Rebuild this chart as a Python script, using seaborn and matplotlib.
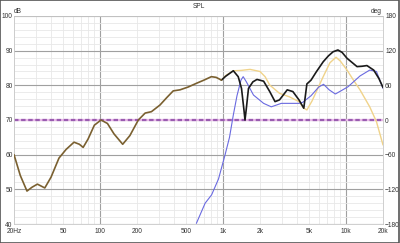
import numpy as np
import pandas as pd
import matplotlib
matplotlib.use("Agg")
import matplotlib.pyplot as plt
import seaborn as sns
from matplotlib.ticker import FixedLocator, NullFormatter

# shared low-frequency part (black and gold overlap -> brown)
low_freq = [20, 22.5, 25.5, 28, 31, 35.6, 40, 46.4, 53, 61.5, 68, 73, 80, 90, 102, 115, 130,
            153, 175, 205, 233, 262, 307, 350, 394, 447, 520, 610, 700, 805, 880, 972]
low_db = [60, 54, 49.5, 50.6, 51.5, 50.4, 53.5, 59, 61.5, 63.6, 63, 62.1, 64.5, 68.5, 70, 69, 66,
          63, 65.5, 70, 72, 72.4, 74.3, 76.5, 78.4, 78.7, 79.5, 80.6, 81.5, 82.5, 82.3, 81.5]

black_freq = [972, 1050, 1214, 1330, 1415, 1480, 1510, 1545, 1612, 1750, 1890, 2140, 2400, 2650,
              2880, 3330, 3700, 4150, 4540, 4810, 5200, 5740, 6530, 7200, 7870, 8600, 9300,
              10200, 12300, 13500, 14800, 16800, 18500, 20000]
black_db = [81.5, 82.6, 84.2, 82.5, 79.1, 73, 70, 73, 79.1, 81, 81.7, 81.2, 78.2, 75.3,
            75.8, 78.7, 78.2, 75.8, 73.4, 80.4, 81.5, 83.9, 86.8, 88.5, 89.7, 90.2, 89.5,
            87.8, 85.4, 85.5, 85.7, 84.4, 82, 79.4]

gold_freq = [972, 1050, 1214, 1400, 1660, 1997, 2200, 2397, 2880, 3460, 4150, 4500, 4810, 5300,
             6530, 7400, 8300, 9000, 10200, 11500, 13000, 15600, 17700, 20000]
gold_db = [81.5, 82.8, 84.2, 84.3, 84.6, 84, 82.5, 80.1, 77.7, 76.7, 75.3, 73.5, 72.9, 75.5,
           82.5, 86.5, 88.1, 87, 84.4, 81.5, 78.7, 73.8, 69.5, 62.8]

blue_freq = [608, 716, 808, 920, 1039, 1130, 1213, 1300, 1400, 1460, 1550, 1770, 2140, 2470,
             2980, 3500, 4150, 4450, 5200, 6000, 6570, 7300, 8200, 9200, 10400, 13000, 15600,
             17700, 20000]
blue_db = [40.2, 46, 48.4, 53, 59.9, 65, 71.4, 77, 81.5, 82.5, 81, 77.2, 74.8, 73.8,
           74.8, 74.8, 74.8, 75.1, 77, 79.5, 80.3, 78.7, 77.5, 78.5, 79.6, 82.7, 84.4,
           84, 79.1]

ref_level = 70
x_ticks = [20, 50, 100, 200, 500, 1000, 2000, 5000, 10000, 20000]
x_labels = ["20Hz", "50", "100", "200", "500", "1k", "2k", "5k", "10k", "20k"]
y_ticks = [40, 50, 60, 70, 80, 90, 100]
deg_ticks = [-180, -120, -60, 0, 60, 120, 180]

sns.set_style("white")
plt.rcParams['font.family'] = ['Liberation Sans', 'DejaVu Sans']

fig = plt.figure(figsize=(4, 2.43), dpi=100)
ax = fig.add_axes([14 / 400, 1 - 224 / 243, 369 / 400, 208 / 243])

ax.set_xscale("log")
ax.set_xlim(20, 20000)
ax.set_ylim(40, 100)

# grid
minor_x = [f * d for d in (10, 100, 1000) for f in range(2, 10)] + [20000]
for f in minor_x:
    ax.axvline(f, color="#e8e8e8", lw=0.6, zorder=0)
for f in [100, 1000, 10000]:
    ax.axvline(f, color="#a0a0a0", lw=0.8, zorder=0)
for v in np.arange(40, 101, 2):
    ax.axhline(v, color="#e8e8e8", lw=0.6, zorder=0)
for v in y_ticks:
    ax.axhline(v, color="#a0a0a0", lw=0.8, zorder=0)

ax.axhline(ref_level, color="#e8b8e8", lw=1.6, zorder=1)
ax.axhline(ref_level, color="#9a5cb0", lw=1.6, ls=(0, (2, 1.2)), zorder=1)

sns.lineplot(x=gold_freq, y=gold_db, ax=ax, color="#f0d38a", lw=1.0, zorder=3)
sns.lineplot(x=blue_freq, y=blue_db, ax=ax, color="#6a6ae0", lw=0.8, zorder=3)
sns.lineplot(x=black_freq, y=black_db, ax=ax, color="#1a1a1a", lw=1.2, zorder=4)
sns.lineplot(x=low_freq, y=low_db, ax=ax, color="#7a6030", lw=1.2, zorder=4)

ax.xaxis.set_major_locator(FixedLocator(x_ticks))
ax.xaxis.set_minor_formatter(NullFormatter())
ax.set_xticklabels(x_labels)
ax.set_yticks(y_ticks)
ax.tick_params(axis="y", which="both", length=0, labelsize=4.8, pad=1, colors="#333333")
ax.tick_params(axis="x", which="both", length=0, labelsize=4.8, pad=3, colors="#333333")
ax.set_xlabel("")
ax.set_ylabel("")
for s in ax.spines.values():
    s.set_color("#c8c8c8")
    s.set_linewidth(0.6)

ax2 = ax.twinx()
ax2.set_ylim(-180, 180)
ax2.set_yticks(deg_ticks)
ax2.tick_params(axis="y", length=0, labelsize=4.8, pad=1.5, colors="#333333")
for s in ax2.spines.values():
    s.set_visible(False)

ax.text(0.0, 1.005, "dB", transform=ax.transAxes, fontsize=4.8, ha="left", va="bottom", color="#333333")
ax.text(0.995, 1.005, "deg", transform=ax.transAxes, fontsize=4.8, ha="right", va="bottom", color="#333333")
ax.text(0.5, 1.03, "SPL", transform=ax.transAxes, fontsize=4.8, ha="center", va="bottom", color="#333333")

fig.patches.append(plt.Rectangle((0.001, 0.002), 0.997, 0.996, transform=fig.transFigure,
                                 fill=False, edgecolor="#555555", lw=1.2))

fig.savefig("out.png", dpi=100)
